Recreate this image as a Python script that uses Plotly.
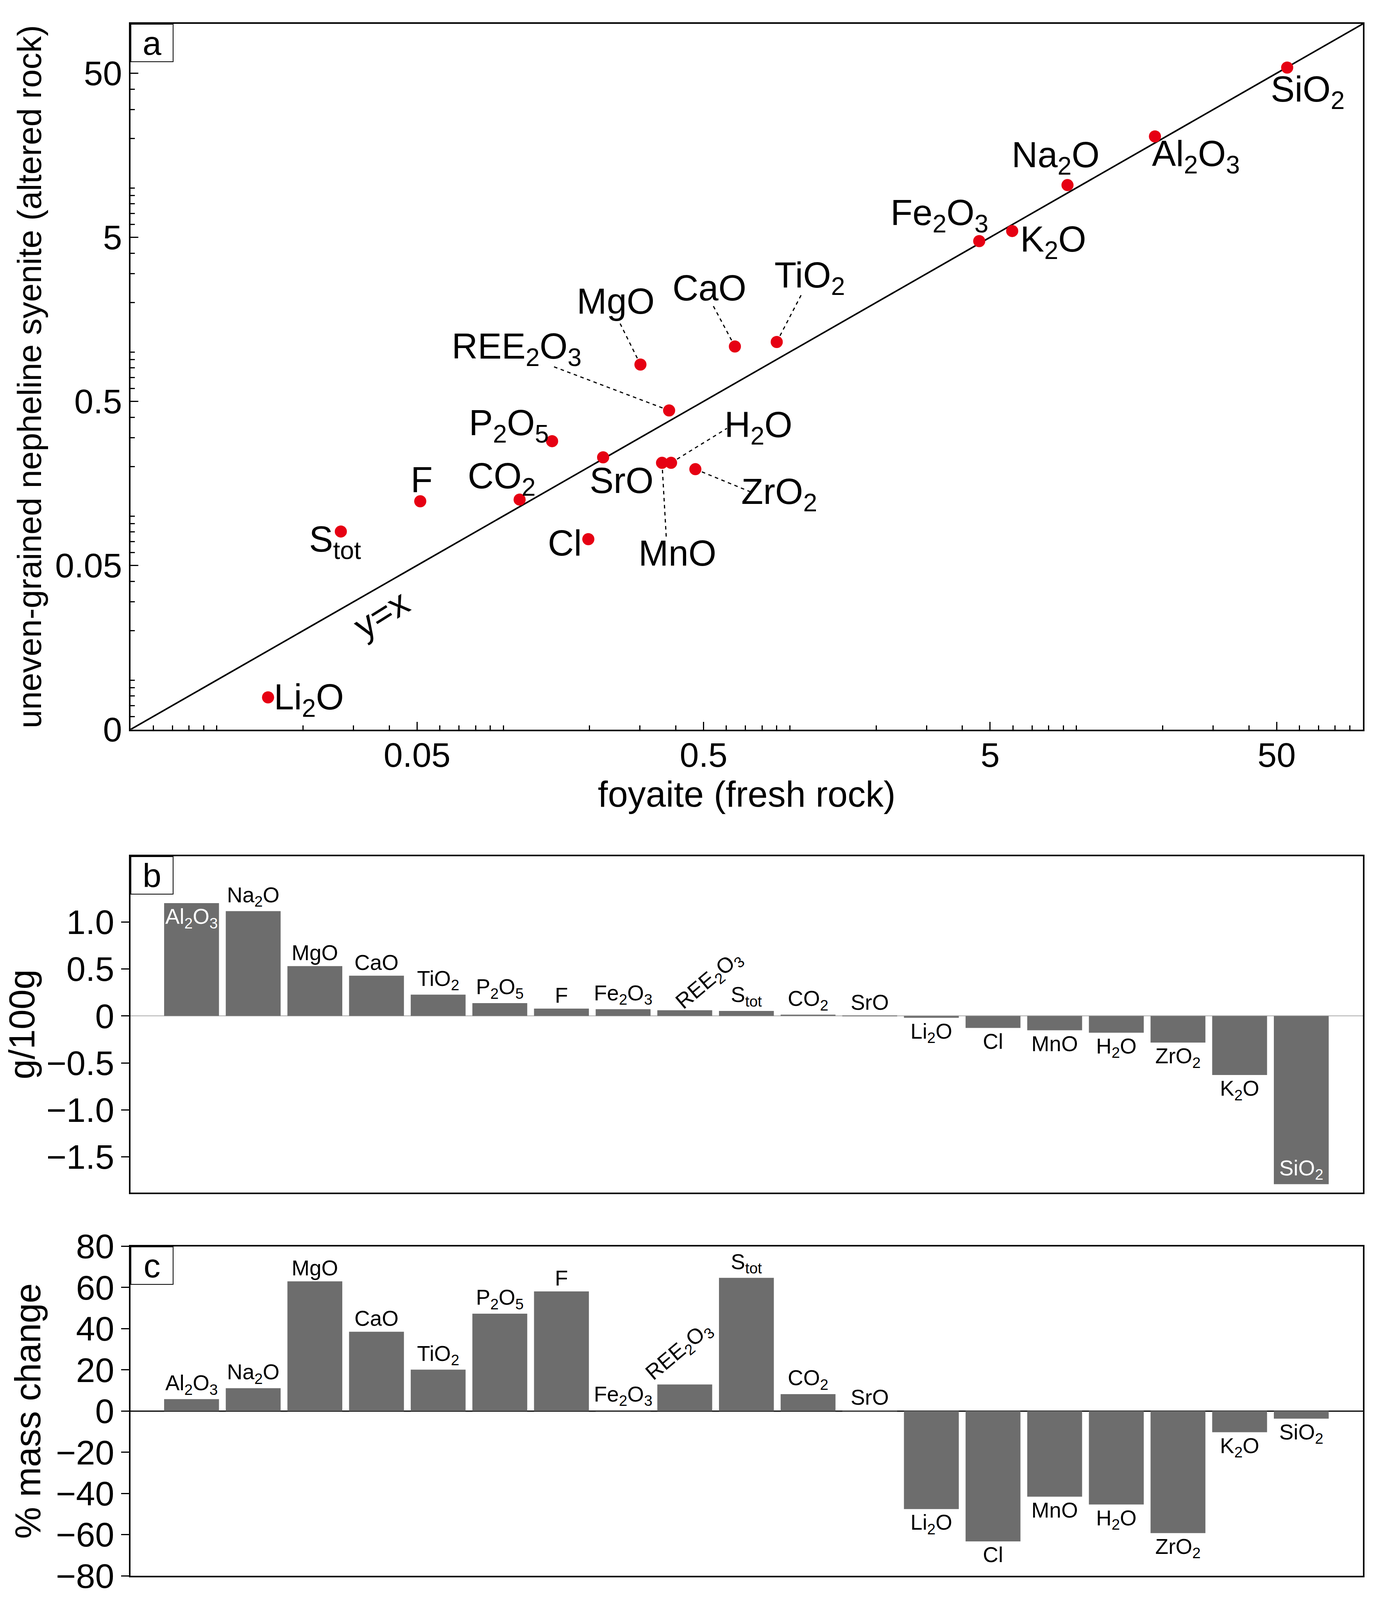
import math
import plotly.graph_objects as go

FONT = "Liberation Sans, Arial, sans-serif"

# ---------------- panel a data ----------------
oxides_a = ["SiO2", "Al2O3", "Na2O", "K2O", "Fe2O3", "TiO2", "CaO", "MgO", "REE2O3", "P2O5",
            "SrO", "MnO", "H2O", "ZrO2", "CO2", "F", "Stot", "Cl", "Li2O"]
labels_a = ["SiO<sub>2</sub>", "Al<sub>2</sub>O<sub>3</sub>", "Na<sub>2</sub>O", "K<sub>2</sub>O",
            "Fe<sub>2</sub>O<sub>3</sub>", "TiO<sub>2</sub>", "CaO", "MgO", "REE<sub>2</sub>O<sub>3</sub>",
            "P<sub>2</sub>O<sub>5</sub>", "SrO", "MnO", "H<sub>2</sub>O", "ZrO<sub>2</sub>",
            "CO<sub>2</sub>", "F", "S<sub>tot</sub>", "Cl", "Li<sub>2</sub>O"]
fresh = [54.4, 18.8, 9.31, 5.97, 4.58, 0.90, 0.643, 0.301, 0.379, 0.148,
         0.223, 0.358, 0.385, 0.468, 0.114, 0.0513, 0.0271, 0.198, 0.0151]
altered = [54.1, 20.6, 10.4, 5.46, 4.74, 1.15, 1.08, 0.838, 0.44, 0.286,
           0.228, 0.211, 0.211, 0.193, 0.126, 0.123, 0.0805, 0.0723, 0.00785]
axis_range_a = [0.005, 100]
xticks_a = [0.05, 0.5, 5, 50]
xticktext_a = ["0.05", "0.5", "5", "50"]
yticks_a = [0.005, 0.05, 0.5, 5, 50]
yticktext_a = ["0", "0.05", "0.5", "5", "50"]

# label offsets in decades (dx right, dy up) and leader-line ends (style only)
label_dx = [0.071, 0.143, -0.042, 0.143, -0.139, 0.115, -0.089, -0.086, -0.532, -0.151,
            0.065, 0.053, 0.305, 0.293, -0.063, 0.005, -0.020, -0.082, 0.143]
label_dy = [-0.148, -0.122, 0.168, -0.066, 0.157, 0.391, 0.358, 0.386, 0.376, 0.096,
            -0.142, -0.550, 0.216, -0.153, 0.129, 0.131, -0.063, -0.024, -0.013]
leader = {"TiO2": (0.089, 0.299), "CaO": (-0.080, 0.262), "MgO": (-0.078, 0.275),
          "REE2O3": (-0.406, 0.269), "MnO": (0.015, -0.459), "H2O": (0.195, 0.210),
          "ZrO2": (0.195, -0.140)}

# ---------------- panels b, c data ----------------
cats = ["Al2O3", "Na2O", "MgO", "CaO", "TiO2", "P2O5", "F", "Fe2O3", "REE2O3", "Stot",
        "CO2", "SrO", "Li2O", "Cl", "MnO", "H2O", "ZrO2", "K2O", "SiO2"]
cat_labels = ["Al<sub>2</sub>O<sub>3</sub>", "Na<sub>2</sub>O", "MgO", "CaO", "TiO<sub>2</sub>",
              "P<sub>2</sub>O<sub>5</sub>", "F", "Fe<sub>2</sub>O<sub>3</sub>", "REE<sub>2</sub>O<sub>3</sub>",
              "S<sub>tot</sub>", "CO<sub>2</sub>", "SrO", "Li<sub>2</sub>O", "Cl", "MnO",
              "H<sub>2</sub>O", "ZrO<sub>2</sub>", "K<sub>2</sub>O", "SiO<sub>2</sub>"]
change_g = [1.20, 1.115, 0.53, 0.428, 0.226, 0.136, 0.078, 0.072, 0.06, 0.053,
            0.013, 0.002, -0.02, -0.128, -0.153, -0.179, -0.284, -0.629, -1.79]
change_pct = [5.8, 11.1, 63.0, 38.5, 20.1, 47.3, 58.1, 0.4, 12.9, 64.7,
              8.2, 0.3, -47.6, -63.3, -41.6, -45.4, -59.3, -10.3, -3.7]
yticks_b = [-1.5, -1.0, -0.5, 0, 0.5, 1.0]
yticktext_b = ["\u22121.5", "\u22121.0", "\u22120.5", "0", "0.5", "1.0"]

BAR_COLOR = "#6d6d6d"
RED = "#e60013"
inside_b = {"Al2O3", "SiO2"}
rotated_label = "REE2O3"

fig = go.Figure()

# y = x line
fig.add_trace(go.Scatter(x=axis_range_a, y=axis_range_a, mode="lines",
                         line=dict(color="black", width=4), xaxis="x", yaxis="y",
                         hoverinfo="skip", showlegend=False))

# dashed leader lines (from each point towards its label)
lx, ly = [], []
for i, name in enumerate(oxides_a):
    if name in leader:
        ddx, ddy = leader[name]
        lx += [fresh[i], fresh[i] * 10 ** ddx, None]
        ly += [altered[i], altered[i] * 10 ** ddy, None]
fig.add_trace(go.Scatter(x=lx, y=ly, mode="lines", xaxis="x", yaxis="y",
                         line=dict(color="black", width=3, dash="dash"),
                         hoverinfo="skip", showlegend=False))

# points
fig.add_trace(go.Scatter(x=fresh, y=altered, mode="markers", xaxis="x", yaxis="y",
                         marker=dict(color=RED, size=31, line=dict(width=0)),
                         text=oxides_a, showlegend=False, cliponaxis=False))

annotations = []
for i, name in enumerate(oxides_a):
    annotations.append(dict(x=math.log10(fresh[i]) + label_dx[i],
                            y=math.log10(altered[i]) + label_dy[i], xref="x", yref="y",
                            text=labels_a[i], showarrow=False, xanchor="center", yanchor="middle",
                            font=dict(family=FONT, size=92, color="black")))

# y=x label
yx_at = 0.0375
annotations.append(dict(x=math.log10(yx_at), y=math.log10(yx_at) - 0.172, xref="x", yref="y",
                        text="y=x", showarrow=False, textangle=-32,
                        font=dict(family=FONT, size=92, color="black")))


def bar_panel(values, xa, ya, inside_set):
    texts = ["" if c == rotated_label else lab for c, lab in zip(cats, cat_labels)]
    pos = ["inside" if c in inside_set else "outside" for c in cats]
    cols = ["white" if c in inside_set else "black" for c in cats]
    return go.Bar(x=cats, y=values, xaxis=xa, yaxis=ya, width=0.89,
                  marker=dict(color=BAR_COLOR, line=dict(width=0)),
                  text=texts, textposition=pos, textangle=0, constraintext="none",
                  textfont=dict(family=FONT, size=55, color=cols),
                  insidetextanchor="end", cliponaxis=False, showlegend=False)


fig.add_trace(bar_panel(change_g, "x2", "y2", inside_b))
fig.add_trace(bar_panel(change_pct, "x3", "y3", set()))

ri = cats.index(rotated_label)
annotations.append(dict(x=ri, y=change_g[ri], xref="x2", yref="y2", text=cat_labels[ri],
                        showarrow=False, textangle=-40, xshift=63, yshift=76,
                        font=dict(family=FONT, size=55, color="black")))
annotations.append(dict(x=ri, y=change_pct[ri], xref="x3", yref="y3", text=cat_labels[ri],
                        showarrow=False, textangle=-40, xshift=-14, yshift=84,
                        font=dict(family=FONT, size=55, color="black")))

# panel letters
for letter, xr, yr in [("a", "x domain", "y domain"), ("b", "x2 domain", "y2 domain"),
                       ("c", "x3 domain", "y3 domain")]:
    annotations.append(dict(x=0, y=1, xref=xr, yref=yr, xanchor="left", yanchor="top",
                            text=letter, showarrow=False, bgcolor="white", bordercolor="black",
                            borderwidth=2, borderpad=0, width=106, height=94,
                            font=dict(family=FONT, size=86, color="black")))

minor_vals = []
for n in range(-3, 3):
    for k in range(1, 10):
        v = k * 10 ** n
        if k != 5 and axis_range_a[0] < v < axis_range_a[1]:
            minor_vals.append(v)

common_line = dict(showline=True, linewidth=4, linecolor="black", mirror=True,
                   showgrid=False)
tickfont = dict(family=FONT, size=88, color="black")
titlefont = dict(family=FONT, size=92, color="black")

fig.update_layout(
    autosize=True,
    margin=dict(l=334, r=36, t=46, b=50),
    plot_bgcolor="white", paper_bgcolor="white", showlegend=False,
    font=dict(family=FONT, size=88, color="black"),
    xaxis=dict(type="log", domain=[0, 1], anchor="y",
               range=[math.log10(axis_range_a[0]), math.log10(axis_range_a[1])],
               tickmode="array", tickvals=xticks_a, ticktext=xticktext_a,
               ticks="inside", ticklen=20, tickwidth=3, tickcolor="black", tickfont=tickfont,
               ticklabelstandoff=-14,
               minor=dict(tickmode="array", tickvals=minor_vals, ticks="inside", ticklen=11,
                          tickwidth=3, tickcolor="black", showgrid=False),
               zeroline=False,
               title=dict(text="foyaite (fresh rock)", font=titlefont, standoff=6),
               **common_line),
    yaxis=dict(type="log", domain=[0.5453, 1], anchor="x",
               range=[math.log10(axis_range_a[0]), math.log10(axis_range_a[1])],
               tickmode="array", tickvals=yticks_a, ticktext=yticktext_a,
               ticks="inside", ticklen=20, tickwidth=3, tickcolor="black", tickfont=tickfont,
               minor=dict(tickmode="array", tickvals=minor_vals, ticks="inside", ticklen=11,
                          tickwidth=3, tickcolor="black", showgrid=False),
               zeroline=False,
               title=dict(text="uneven-grained nepheline syenite (altered rock)",
                          font=dict(family=FONT, size=85, color="black"), standoff=8),
               **common_line),
    xaxis2=dict(domain=[0, 1], anchor="y2", type="category", range=[-0.99, 19.0],
                showticklabels=False, ticks="", zeroline=False, **common_line),
    yaxis2=dict(domain=[0.2469, 0.4637], anchor="x2", range=[-1.88, 1.70],
                tickmode="array", tickvals=yticks_b, ticktext=yticktext_b,
                ticks="outside", ticklen=20, tickwidth=3, tickcolor="black", tickfont=tickfont,
                zeroline=True, zerolinecolor="#c4c4c4", zerolinewidth=3,
                title=dict(text="g/100g", font=titlefont, standoff=0),
                **common_line),
    xaxis3=dict(domain=[0, 1], anchor="y3", type="category", range=[-0.99, 19.0],
                showticklabels=False, ticks="", zeroline=False, **common_line),
    yaxis3=dict(domain=[0, 0.2123], anchor="x3", range=[-80, 80],
                tickmode="linear", tick0=0, dtick=20,
                ticks="outside", ticklen=20, tickwidth=3, tickcolor="black", tickfont=tickfont,
                zeroline=True, zerolinecolor="black", zerolinewidth=3,
                title=dict(text="% mass change", font=titlefont, standoff=10),
                **common_line),
    annotations=annotations,
)

fig.write_html(
    "out.html",
    default_width="100vw", default_height="100vh",
    config={"displayModeBar": False, "responsive": True},
    post_script=("document.documentElement.style.margin='0';document.body.style.margin='0';"
                 "document.body.style.overflow='hidden';"
                 "var gd=document.getElementById('{plot_id}');"
                 "setTimeout(function(){Plotly.Plots.resize(gd);},50);"),
)
